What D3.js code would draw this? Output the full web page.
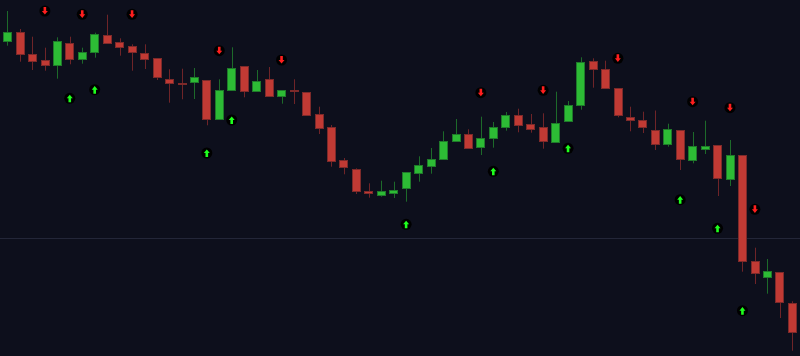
<!DOCTYPE html>
<html lang="en">
	<head>
		<meta charset="utf-8">
		<title>candles</title>
		<style>
			body {
				margin: 0;
				background-color: #0d0f1c;
			}
			svg {
				display: block;
			}
			.wick {
				stroke-width: 1px;
			}
			.body {
				stroke-width: 1px;
				shape-rendering: crispEdges;
			}
			.refline {
				stroke: #232638;
				stroke-width: 1px;
				shape-rendering: crispEdges;
			}
		</style>
	</head>
	<body>
		<script type="text/javascript" src="https://cdnjs.cloudflare.com/ajax/libs/d3/7.8.5/d3.min.js"></script>
		<script type="text/javascript">

			// price data, one entry per bar
			var opens  = [358.3, 367.3, 346.0, 339.3, 334.7, 356.3, 340.3, 347.3, 364.7, 358.0,
			              353.7, 346.7, 341.3, 320.3, 316.7, 317.7, 319.7, 281.0, 309.3, 333.7,
			              309.0, 320.7, 303.3, 309.3, 307.7, 286.0, 272.3, 239.7, 231.0, 208.3,
			              204.7, 207.0, 211.3, 226.3, 233.3, 240.3, 258.3, 265.3, 253.0, 261.3,
			              272.3, 284.7, 275.3, 272.3, 257.7, 278.7, 294.3, 338.7, 330.7, 311.3,
			              282.3, 279.3, 270.0, 256.0, 270.0, 239.7, 250.3, 254.3, 221.0, 245.0,
			              138.3, 122.3, 127.3, 96.7];
			var highs  = [389.0, 371.0, 363.3, 352.3, 362.7, 363.3, 352.3, 367.3, 385.3, 361.7,
			              355.7, 355.7, 341.3, 330.7, 331.3, 332.0, 319.7, 320.7, 352.7, 333.7,
			              330.0, 333.0, 309.7, 320.7, 307.7, 293.3, 275.0, 242.0, 231.7, 216.7,
			              219.3, 218.3, 228.0, 243.7, 252.0, 268.7, 281.0, 270.7, 283.3, 278.0,
			              288.0, 291.3, 286.0, 286.7, 308.3, 299.0, 342.7, 341.7, 339.3, 311.3,
			              293.3, 288.3, 289.5, 276.3, 270.0, 268.0, 279.3, 254.3, 260.0, 245.0,
			              152.3, 141.0, 127.3, 98.7];
			var lows   = [354.3, 338.3, 330.0, 329.3, 321.3, 335.7, 336.3, 342.3, 356.7, 344.3,
			              329.3, 331.0, 320.0, 297.3, 300.7, 301.0, 274.7, 281.0, 309.3, 302.7,
			              309.0, 303.3, 296.3, 296.0, 285.0, 266.0, 233.3, 225.7, 206.0, 202.3,
			              203.3, 202.0, 198.3, 218.3, 226.3, 240.3, 258.3, 251.3, 245.0, 252.3,
			              269.3, 267.7, 267.3, 251.3, 257.7, 278.7, 290.3, 312.3, 311.3, 282.7,
			              268.7, 267.0, 250.0, 253.3, 230.0, 236.7, 246.0, 204.0, 214.0, 128.3,
			              116.0, 106.3, 82.0, 49.3];
			var closes = [367.3, 345.7, 338.7, 334.3, 358.7, 340.3, 347.7, 365.7, 356.7, 352.7,
			              347.3, 341.0, 322.7, 316.3, 315.8, 322.7, 280.3, 309.7, 332.0, 308.3,
			              319.0, 303.3, 309.7, 308.5, 285.0, 271.7, 238.3, 232.7, 208.3, 206.3,
			              208.3, 210.0, 228.0, 234.7, 241.0, 258.3, 266.0, 251.3, 262.0, 272.3,
			              285.0, 275.0, 270.7, 258.3, 277.0, 294.3, 338.0, 330.3, 311.3, 285.0,
			              279.3, 272.3, 255.5, 270.7, 240.3, 253.7, 253.7, 221.7, 245.0, 138.3,
			              126.3, 128.3, 97.3, 67.7];

			// signals: bar index and marker price
			var sellBars   = [3, 6, 10, 17, 22, 38, 43, 49, 55, 58, 60];
			var sellPrices = [389.0, 385.7, 385.7, 349.3, 340.0, 307.3, 309.7, 341.7, 298.3, 292.3, 190.7];
			var buyBars    = [5, 7, 16, 18, 32, 39, 45, 54, 57, 59];
			var buyPrices  = [301.7, 310.3, 247.0, 280.0, 175.7, 228.7, 251.7, 200.3, 171.7, 89.3];

			var refLevel = 162;

			var fullwidth = 800;
			var fullheight = 356;

			var bars = opens.map(function(o, i) {
				return { i: i, open: o, high: highs[i], low: lows[i], close: closes[i] };
			});

			var xScale = d3.scaleBand()
				.domain(d3.range(bars.length))
				.range([1.27, 798.5])
				.paddingInner(0.3)
				.paddingOuter(0.15);

			var yScale = d3.scaleLinear()
				.domain([44, 400])
				.range([fullheight, 0]);

			var svg = d3.select("body")
				.append("svg")
				.attr("width", fullwidth)
				.attr("height", fullheight);

			svg.append("rect")
				.attr("width", fullwidth)
				.attr("height", fullheight)
				.attr("fill", "#0d0f1c");

			svg.append("line")
				.attr("class", "refline")
				.attr("x1", 0)
				.attr("x2", fullwidth)
				.attr("y1", Math.round(yScale(refLevel)) + 0.5)
				.attr("y2", Math.round(yScale(refLevel)) + 0.5);

			function up(d) { return d.close >= d.open; }
			function cx(i) { return xScale(i) + xScale.bandwidth() / 2; }

			var candles = svg.selectAll("g.candle")
				.data(bars)
				.enter()
				.append("g")
				.attr("class", "candle");

			// wicks
			candles.append("line")
				.attr("class", "wick")
				.attr("x1", function(d) { return Math.round(cx(d.i)) + 0.5; })
				.attr("x2", function(d) { return Math.round(cx(d.i)) + 0.5; })
				.attr("y1", function(d) { return yScale(d.high); })
				.attr("y2", function(d) { return yScale(d.low); })
				.attr("stroke", function(d) { return up(d) ? "#1d6a2a" : "#6f2428"; });

			// bodies
			candles.append("rect")
				.attr("class", "body")
				.attr("x", function(d) { return Math.round(xScale(d.i)) + 0.5; })
				.attr("width", Math.round(xScale.bandwidth()) - 1)
				.attr("y", function(d) { return yScale(Math.max(d.open, d.close)); })
				.attr("height", function(d) {
					return Math.max(1, Math.abs(yScale(d.open) - yScale(d.close)));
				})
				.attr("fill", function(d) { return up(d) ? "#2dbb35" : "#c13a34"; })
				.attr("stroke", function(d) { return up(d) ? "#1f7a2a" : "#7d2a2a"; });

			// signal markers
			var sells = sellBars.map(function(b, k) { return { i: b, price: sellPrices[k] }; });
			var buys = buyBars.map(function(b, k) { return { i: b, price: buyPrices[k] }; });

			var downArrow = "M-1.3,-4 L1.3,-4 L1.3,0 L3,0 L0,3.6 L-3,0 L-1.3,0 Z";
			var upArrow = "M-1.3,4 L1.3,4 L1.3,0 L3,0 L0,-3.6 L-3,0 L-1.3,0 Z";

			function drawSignals(list, path, color) {
				var g = svg.selectAll(null)
					.data(list)
					.enter()
					.append("g")
					.attr("transform", function(d) {
						return "translate(" + cx(d.i) + "," + yScale(d.price) + ")";
					});
				g.append("circle")
					.attr("r", 5.5)
					.attr("fill", "#000");
				g.append("path")
					.attr("d", path)
					.attr("fill", color);
			}

			drawSignals(sells, downArrow, "#ff1e1e");
			drawSignals(buys, upArrow, "#1eff1e");

		</script>
	</body>
</html>
